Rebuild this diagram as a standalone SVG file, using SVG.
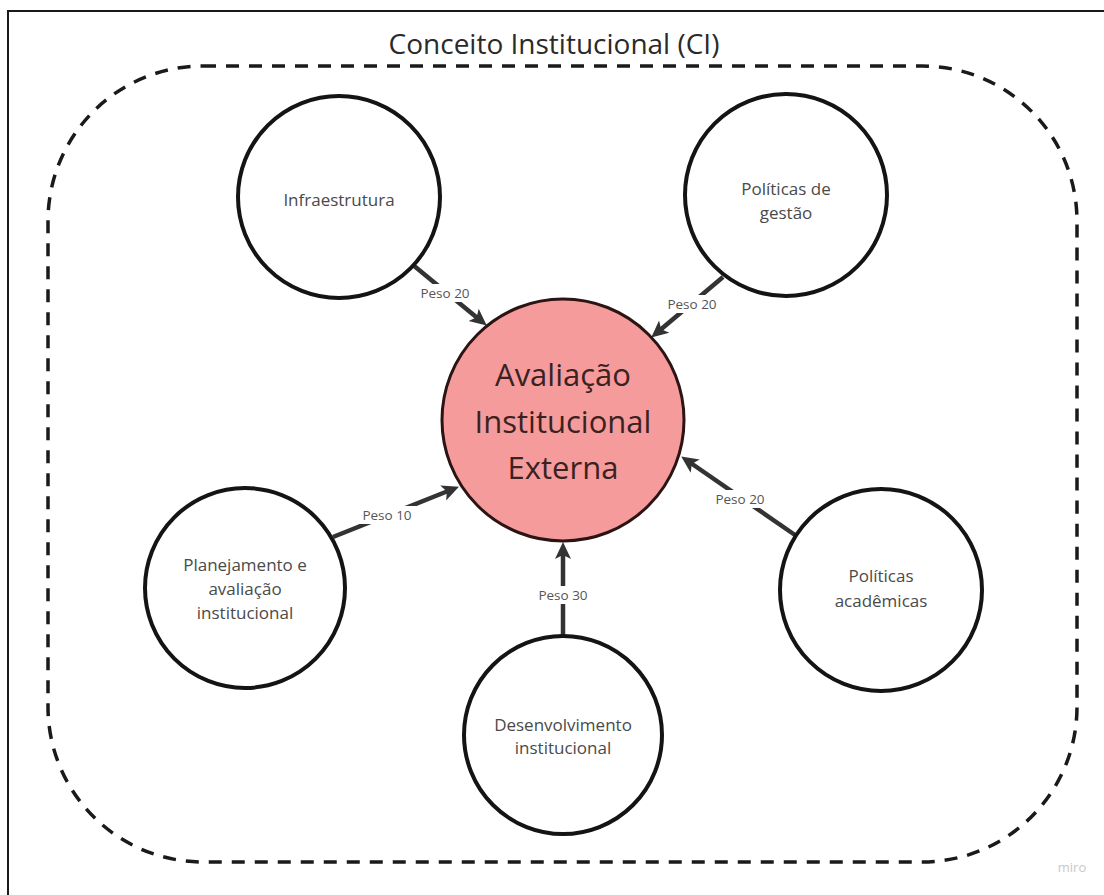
<svg xmlns="http://www.w3.org/2000/svg" width="1104" height="895" viewBox="0 0 1104 895">
  <style>
    .frame { fill: none; stroke: #1a1a1a; stroke-width: 2; }
    .boundary { fill: none; stroke: #1a1a1a; stroke-width: 3.5; stroke-dasharray: 13 10; }
    .title { font-family: "Open Sans", "Liberation Sans", sans-serif; font-size: 28px; fill: #2a2a2a; text-anchor: middle; }
    .node { fill: #ffffff; stroke: #141414; stroke-width: 4; }
    .core { fill: #f69b9b; stroke: #2b1414; stroke-width: 3; }
    .label { font-family: "Open Sans", "Liberation Sans", sans-serif; font-size: 17px; fill: #4a4a4a; text-anchor: middle; }
    .core-label { font-family: "Open Sans", "Liberation Sans", sans-serif; font-size: 31px; fill: #3a2222; text-anchor: middle; }
    .edge { stroke: #333333; stroke-width: 4.5; fill: none; marker-end: url(#arrow); }
    .tag-bg { fill: #ffffff; }
    .tag { font-family: "Open Sans", "Liberation Sans", sans-serif; font-size: 13.5px; fill: #555555; text-anchor: middle; }
    .brand { font-family: "Open Sans", "Liberation Sans", sans-serif; font-size: 13px; fill: #c8c8c8; text-anchor: middle; }
  </style>
  <defs>
    <marker id="arrow" markerUnits="userSpaceOnUse" markerWidth="18" markerHeight="18" viewBox="0 0 18 18" refX="8" refY="9" orient="auto">
      <path d="M0,1 L17,9 L0,17 L4,9 Z" fill="#333333"/>
    </marker>
  </defs>

  <rect width="1104" height="895" fill="#ffffff"/>
  <!-- outer board frame -->
  <rect class="frame" x="8" y="11" width="1110" height="900"/>

  <!-- dashed boundary around the concept -->
  <rect class="boundary" x="48" y="66" width="1029" height="796" rx="155" ry="155"/>
  <text class="title" x="554" y="54">Conceito Institucional (CI)</text>

  <!-- connectors -->
  <g id="connectors">
    <line class="edge" x1="413" y1="265" x2="479.8" y2="319.9"/>
    <line class="edge" x1="723" y1="277" x2="658.1" y2="331.8"/>
    <line class="edge" x1="333" y1="537" x2="450.6" y2="490"/>
    <line class="edge" x1="563" y1="637" x2="563" y2="551"/>
    <line class="edge" x1="795" y1="535" x2="688.6" y2="461.5"/>

    <rect class="tag-bg" x="416" y="284" width="58" height="18"/>
    <text class="tag" x="445" y="298">Peso 20</text>
    <rect class="tag-bg" x="663" y="295" width="58" height="18"/>
    <text class="tag" x="692" y="309">Peso 20</text>
    <rect class="tag-bg" x="358" y="506" width="58" height="18"/>
    <text class="tag" x="387" y="520">Peso 10</text>
    <rect class="tag-bg" x="534" y="586" width="58" height="18"/>
    <text class="tag" x="563" y="600">Peso 30</text>
    <rect class="tag-bg" x="711" y="490" width="58" height="18"/>
    <text class="tag" x="740" y="504">Peso 20</text>
  </g>

  <!-- nodes -->
  <g id="infraestrutura">
    <circle class="node" cx="339" cy="197" r="101"/>
    <text class="label" x="339" y="206">Infraestrutura</text>
  </g>
  <g id="politicas-gestao">
    <circle class="node" cx="786" cy="195" r="101"/>
    <text class="label" x="786" y="195">Políticas de</text>
    <text class="label" x="786" y="219">gestão</text>
  </g>
  <g id="avaliacao-externa">
    <circle class="core" cx="563" cy="420" r="121"/>
    <text class="core-label" x="563" y="386">Avaliação</text>
    <text class="core-label" x="563" y="433">Institucional</text>
    <text class="core-label" x="563" y="479">Externa</text>
  </g>
  <g id="planejamento">
    <circle class="node" cx="245" cy="588" r="100"/>
    <text class="label" x="245" y="571">Planejamento e</text>
    <text class="label" x="245" y="595">avaliação</text>
    <text class="label" x="245" y="619">institucional</text>
  </g>
  <g id="desenvolvimento">
    <circle class="node" cx="563" cy="735" r="99"/>
    <text class="label" x="563" y="731">Desenvolvimento</text>
    <text class="label" x="563" y="754">institucional</text>
  </g>
  <g id="politicas-academicas">
    <circle class="node" cx="881" cy="590" r="101"/>
    <text class="label" x="881" y="582">Políticas</text>
    <text class="label" x="881" y="607">acadêmicas</text>
  </g>

  <text class="brand" x="1072" y="872">miro</text>
</svg>
